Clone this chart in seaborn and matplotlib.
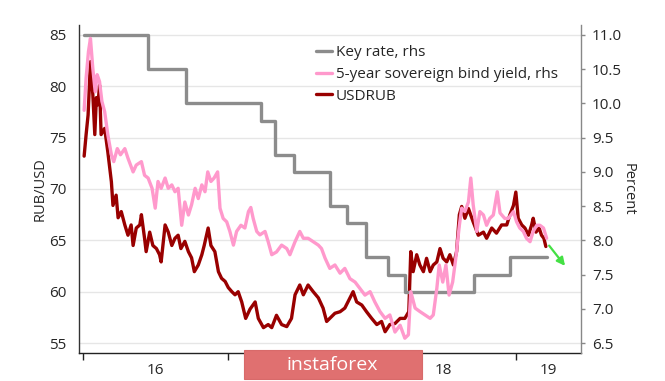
import matplotlib
matplotlib.use("Agg")
import pandas as pd
import matplotlib.pyplot as plt
from matplotlib.patches import Rectangle
import seaborn as sns

# USDRUB (lhs)
usd_dates = [
    "2016-01-04", "2016-01-09", "2016-01-14", "2016-01-20", "2016-01-26", "2016-01-31", "2016-02-04",
    "2016-02-08", "2016-02-12", "2016-02-16", "2016-02-25", "2016-03-04", "2016-03-13", "2016-03-17",
    "2016-03-25", "2016-03-30", "2016-04-07", "2016-04-16", "2016-04-24", "2016-05-02", "2016-05-07",
    "2016-05-15", "2016-05-24", "2016-05-28", "2016-06-05", "2016-06-09", "2016-06-18", "2016-06-26",
    "2016-07-05", "2016-07-13", "2016-07-17", "2016-07-27", "2016-08-04", "2016-08-13", "2016-08-21",
    "2016-08-29", "2016-09-05", "2016-09-15", "2016-09-24", "2016-10-02", "2016-10-09", "2016-10-19",
    "2016-10-28", "2016-11-03", "2016-11-13", "2016-11-20", "2016-11-30", "2016-12-09", "2016-12-17",
    "2016-12-26",
    "2017-01-03", "2017-01-12", "2017-01-20", "2017-01-28", "2017-02-06", "2017-02-16", "2017-02-27",
    "2017-03-12", "2017-03-20", "2017-04-02", "2017-04-14", "2017-04-23", "2017-05-05", "2017-05-18",
    "2017-05-31", "2017-06-12", "2017-06-21", "2017-07-03", "2017-07-12", "2017-07-24", "2017-08-06",
    "2017-08-19", "2017-08-31", "2017-09-09", "2017-09-17", "2017-09-30", "2017-10-13", "2017-10-25",
    "2017-11-07", "2017-11-15", "2017-11-24", "2017-12-07", "2017-12-19",
    "2018-01-01", "2018-01-14", "2018-01-26", "2018-02-04", "2018-02-16", "2018-03-01", "2018-03-14",
    "2018-03-26", "2018-04-05", "2018-04-10", "2018-04-16", "2018-04-25", "2018-05-03", "2018-05-12",
    "2018-05-20", "2018-05-29", "2018-06-06", "2018-06-15", "2018-06-23", "2018-07-01", "2018-07-10",
    "2018-07-18", "2018-07-27", "2018-08-04", "2018-08-11", "2018-08-17", "2018-08-25", "2018-09-03",
    "2018-09-15", "2018-09-28", "2018-10-11", "2018-10-19", "2018-11-01", "2018-11-13", "2018-11-26",
    "2018-12-09", "2018-12-17", "2018-12-26",
    "2019-01-01", "2019-01-07", "2019-01-16", "2019-01-24", "2019-02-02", "2019-02-10", "2019-02-14",
    "2019-02-21", "2019-03-01", "2019-03-07", "2019-03-13", "2019-03-18",
]
usd_values = [
    73.2, 75.3, 77.2, 82.4, 79.2, 75.3, 78.9, 78.2, 80.1, 75.3, 75.9, 73.6, 70.7, 68.4, 69.4, 67.2,
    67.8, 66.5, 65.5, 66.5, 64.5, 66.2, 66.5, 67.5, 65.2, 63.9, 65.8, 64.5, 64.2, 63.6, 62.9, 66.5,
    65.8, 64.5, 65.2, 65.5, 64.2, 64.9, 63.9, 63.3, 61.95, 62.6, 63.6, 64.5, 66.2, 64.5, 63.9, 61.95,
    61.3, 61.0,
    60.4, 60.0, 59.7, 60.0, 59.0, 57.4, 58.3, 59.0, 57.4, 56.5, 56.8, 56.5, 57.7, 56.8, 56.6, 57.4,
    59.7, 60.65, 59.7, 60.65, 60.0, 59.4, 58.4, 57.1, 57.4, 57.9, 58.05, 58.4, 59.4, 60.0, 59.0, 58.7,
    58.05,
    57.4, 56.8, 57.1, 56.1, 56.8, 56.9, 57.4, 57.4, 58.05, 63.9, 61.95, 63.6, 62.6, 61.95, 63.25,
    61.95, 62.6, 62.9, 64.2, 63.25, 62.9, 63.6, 62.6, 63.9, 67.5, 68.3, 67.15, 68.1, 66.8, 65.5, 65.8,
    65.2, 66.2, 65.7, 66.5, 66.5, 67.5, 68.4,
    69.7, 67.15, 66.5, 66.2, 65.5, 66.5, 67.15, 65.8, 66.2, 65.5, 65.2, 64.4,
]

# 5-year sovereign yield (rhs)
yld_dates = [
    "2016-01-04", "2016-01-09", "2016-01-15", "2016-01-20", "2016-01-26", "2016-02-01", "2016-02-06",
    "2016-02-12", "2016-02-18", "2016-02-25", "2016-03-04", "2016-03-13", "2016-03-19", "2016-03-28",
    "2016-04-05", "2016-04-16", "2016-04-24", "2016-05-07", "2016-05-15", "2016-05-28", "2016-06-05",
    "2016-06-14", "2016-06-24", "2016-07-02", "2016-07-09", "2016-07-17", "2016-07-27", "2016-08-04",
    "2016-08-13", "2016-08-21", "2016-08-29", "2016-09-07", "2016-09-15", "2016-09-24", "2016-10-02",
    "2016-10-11", "2016-10-19", "2016-10-28", "2016-11-05", "2016-11-12", "2016-11-20", "2016-11-28",
    "2016-12-07", "2016-12-13", "2016-12-21", "2016-12-30",
    "2017-01-07", "2017-01-16", "2017-01-24", "2017-02-04", "2017-02-14", "2017-02-23", "2017-03-01",
    "2017-03-07", "2017-03-16", "2017-03-24", "2017-04-06", "2017-04-14", "2017-04-23", "2017-05-05",
    "2017-05-18", "2017-05-31", "2017-06-08", "2017-06-21", "2017-07-03", "2017-07-12", "2017-07-24",
    "2017-08-06", "2017-08-19", "2017-08-27", "2017-09-05", "2017-09-17", "2017-09-30", "2017-10-13",
    "2017-10-25", "2017-11-07", "2017-11-20", "2017-12-02", "2017-12-15", "2017-12-28",
    "2018-01-09", "2018-01-22", "2018-02-04", "2018-02-16", "2018-03-01", "2018-03-14", "2018-03-26",
    "2018-04-04", "2018-04-10", "2018-04-21", "2018-05-03", "2018-05-16", "2018-05-29", "2018-06-06",
    "2018-06-15", "2018-06-21", "2018-06-30", "2018-07-08", "2018-07-16", "2018-07-25", "2018-08-02",
    "2018-08-11", "2018-08-17", "2018-08-25", "2018-09-03", "2018-09-09", "2018-09-15", "2018-09-24",
    "2018-10-02", "2018-10-11", "2018-10-19", "2018-10-27", "2018-11-05", "2018-11-15", "2018-11-22",
    "2018-12-04", "2018-12-13", "2018-12-26",
    "2019-01-03", "2019-01-11", "2019-01-20", "2019-01-28", "2019-02-06", "2019-02-14", "2019-02-23",
    "2019-03-03", "2019-03-12", "2019-03-20",
]
yld_values = [
    9.90, 10.37, 10.76, 10.95, 10.51, 10.17, 10.42, 10.32, 10.03, 9.88, 9.54, 9.25, 9.15, 9.34, 9.25,
    9.34, 9.20, 9.00, 9.10, 9.15, 8.95, 8.91, 8.76, 8.47, 8.86, 8.76, 8.91, 8.76, 8.81, 8.71, 8.76,
    8.22, 8.56, 8.37, 8.52, 8.76, 8.61, 8.81, 8.71, 9.00, 8.86, 8.91, 9.00, 8.47, 8.32, 8.27,
    8.13, 7.93, 8.13, 8.22, 8.18, 8.42, 8.48, 8.32, 8.13, 8.08, 8.13, 7.98, 7.79, 7.83, 7.93, 7.88,
    7.79, 7.98, 8.13, 8.03, 8.03, 7.98, 7.93, 7.88, 7.74, 7.59, 7.64, 7.52, 7.59, 7.44, 7.39, 7.30,
    7.20, 7.25,
    7.10, 6.96, 6.86, 6.91, 6.66, 6.76, 6.57, 6.62, 7.25, 7.01, 6.96, 6.91, 6.86, 6.91, 7.30, 7.64,
    7.39, 7.64, 7.20, 7.39, 7.74, 8.22, 8.47, 8.42, 8.56, 8.91, 8.52, 8.13, 8.42, 8.37, 8.22, 8.32,
    8.37, 8.71, 8.40, 8.32, 8.32, 8.42,
    8.27, 8.18, 8.13, 8.03, 7.98, 8.13, 8.22, 8.22, 8.18, 8.03,
]

# CBR key rate changes (rhs), last entry closes the final step
key_dates = ["2016-01-04", "2016-06-14", "2016-09-19", "2017-03-27", "2017-05-02", "2017-06-19",
             "2017-09-18", "2017-10-30", "2017-12-18", "2018-02-12", "2018-03-26", "2018-09-17",
             "2018-12-17", "2019-03-20"]
key_values = [11.0, 10.5, 10.0, 9.75, 9.25, 9.0, 8.5, 8.25, 7.75, 7.5, 7.25, 7.5, 7.75, 7.75]

year_starts = ["2016-01-01", "2017-01-01", "2018-01-01", "2019-01-01"]
year_labels = ["16", "", "18", "19"]   # "17" sits under the watermark in the original
left_ticks = [55, 60, 65, 70, 75, 80, 85]
right_ticks = [6.5, 7.0, 7.5, 8.0, 8.5, 9.0, 9.5, 10.0, 10.5, 11.0]

# Colours
c_key = "#8c8c8c"
c_yld = "#ff99cc"
c_usd = "#990000"

usd = pd.DataFrame({"date": pd.to_datetime(usd_dates), "value": usd_values})
yld = pd.DataFrame({"date": pd.to_datetime(yld_dates), "value": yld_values})
key = pd.DataFrame({"date": pd.to_datetime(key_dates), "value": key_values})

sns.set_theme(style="white")
plt.rcParams["font.family"] = ["Open Sans", "DejaVu Sans"]
plt.rcParams["text.color"] = "#262626"

fig = plt.figure(figsize=(6.65, 3.81), dpi=100)
ax = fig.add_axes([79 / 665, 1 - 353 / 381, 502 / 665, 328 / 381])
ax2 = ax.twinx()

sns.lineplot(data=usd, x="date", y="value", ax=ax, color=c_usd, lw=2.4, label="USDRUB", legend=False)
sns.lineplot(data=key, x="date", y="value", ax=ax2, color=c_key, lw=2.4, drawstyle="steps-post",
             label="Key rate, rhs", legend=False)
sns.lineplot(data=yld, x="date", y="value", ax=ax2, color=c_yld, lw=2.4,
             label="5-year sovereign bind yield, rhs", legend=False)

x0 = pd.Timestamp("2015-12-22")
x1 = pd.Timestamp("2019-06-15")
ax.set_xlim(x0, x1)
ax.set_ylim(54.03, 85.97)
ax2.set_ylim(6.354, 11.146)

# year boundaries as ticks, labels centred in each year
starts = pd.to_datetime(year_starts)
ends = list(starts[1:]) + [x1]
centres = [s + (e - s) / 2 for s, e in zip(starts, ends)]
ax.set_xticks(starts)
ax.set_xticklabels([])
ax.set_xticks(centres, minor=True)
ax.set_xticklabels(year_labels, minor=True)
ax.tick_params(axis="x", which="major", bottom=True, length=5, width=1, color="#222222")
ax.tick_params(axis="x", which="minor", bottom=True, length=0, pad=7, labelsize=11, labelcolor="#262626")

ax.set_yticks(left_ticks)
ax.tick_params(axis="y", left=True, length=0, pad=9, labelsize=11, labelcolor="#262626")
ax2.set_yticks(right_ticks)
ax2.set_yticklabels([f"{v:.1f}" for v in right_ticks])
ax2.tick_params(axis="y", right=True, length=3, width=1, color="#888888", pad=5, labelsize=11,
                labelcolor="#262626")

ax.grid(axis="y", color="#e6e6e6", lw=1)
ax.set_xlabel("")
ax.set_ylabel("RUB/USD", fontsize=10.5, labelpad=1)
ax2.set_xlabel("")
ax2.set_ylabel("Percent", fontsize=10.5, rotation=270, labelpad=10)

for a in (ax, ax2):
    a.spines["top"].set_visible(False)
ax.spines["left"].set_color("#333333")
ax.spines["bottom"].set_color("#222222")
ax2.spines["left"].set_visible(False)
ax2.spines["bottom"].set_visible(False)
ax2.spines["right"].set_color("#888888")
for s in ("left", "bottom"):
    ax.spines[s].set_linewidth(1)
ax2.spines["right"].set_linewidth(1)
ax.spines["right"].set_visible(False)

# legend: key rate, yield, USDRUB
h1, l1 = ax.get_legend_handles_labels()
h2, l2 = ax2.get_legend_handles_labels()
handles = h2 + h1
labels = l2 + l1
leg = ax2.legend(handles, labels, loc="upper left", bbox_to_anchor=(316 / 665, 1 - 45 / 381),
                 bbox_transform=fig.transFigure, frameon=False, fontsize=11, handlelength=1.05,
                 handletextpad=0.25, labelspacing=0.45, borderpad=0, borderaxespad=0)

# expected direction arrow
ax.annotate("", xy=(pd.Timestamp("2019-05-10"), 62.3), xytext=(pd.Timestamp("2019-03-22"), 64.7),
            arrowprops=dict(arrowstyle="-|>", color="#44e044", lw=1.6, mutation_scale=12))

# watermark
fig.patches.append(Rectangle((244 / 665, 2 / 381), 178 / 665, 29 / 381, transform=fig.transFigure,
                             facecolor="#e07070", edgecolor="#d86a6a", lw=0.8, zorder=10))
fig.text(332 / 665, 1 - 365 / 381, "instaforex", color="white", fontsize=14, ha="center",
         va="center", zorder=11)

fig.savefig("out.png", dpi=100)
